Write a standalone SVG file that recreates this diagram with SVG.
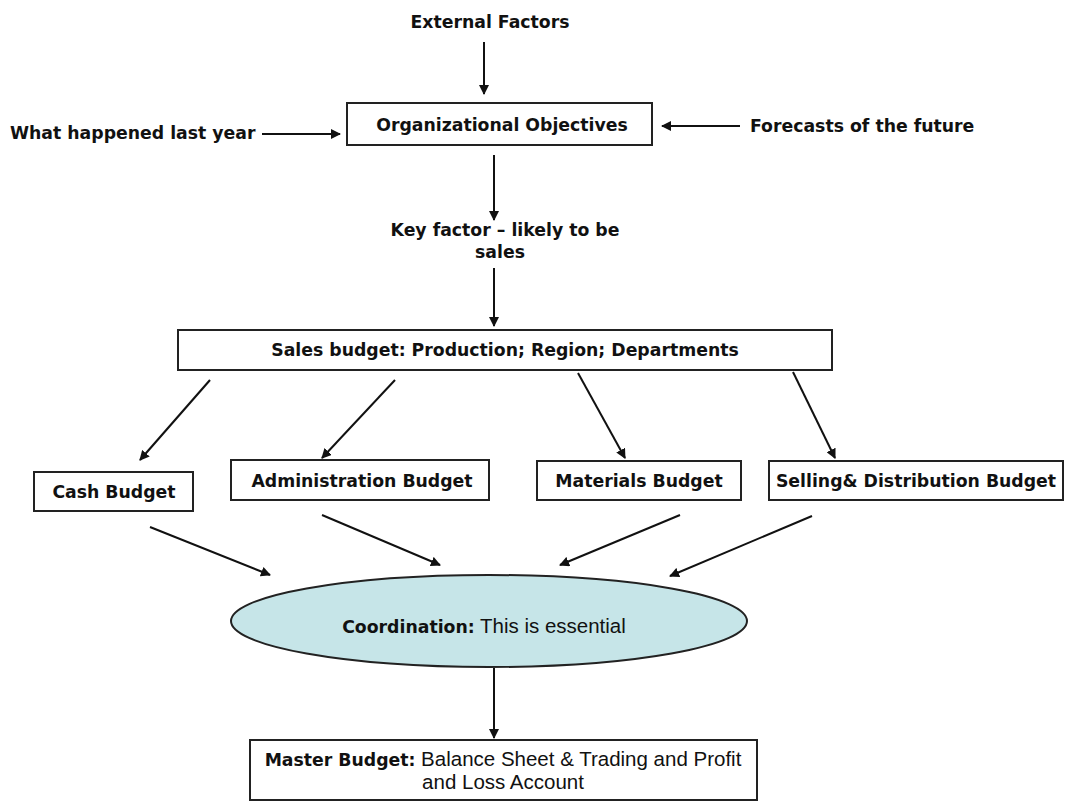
<svg xmlns="http://www.w3.org/2000/svg" width="1068" height="803" viewBox="0 0 1068 803">
<style>
text{font-family:"DejaVu Sans",Verdana,sans-serif;font-size:17.3px;fill:#111;}
.b{font-weight:bold;}
.r{font-family:"Liberation Sans",Arial,sans-serif;font-size:20.5px;font-weight:normal;}
.box{fill:#fff;stroke:#222;stroke-width:2;}
.c line{stroke:#111;stroke-width:2;}
</style>
<defs>
<marker id="ah" viewBox="0 0 10 10" refX="9" refY="5" markerWidth="5" markerHeight="5" orient="auto" markerUnits="strokeWidth">
<path d="M0,0 L10,5 L0,10 z" fill="#111"/>
</marker>
</defs>
<rect width="1068" height="803" fill="#fff"/>
<g id="external"><text class="b" x="490" y="28" text-anchor="middle">External Factors</text></g>
<g id="lastyear"><text class="b" x="10" y="139">What happened last year</text></g>
<g id="forecasts"><text class="b" x="750" y="132">Forecasts of the future</text></g>
<g id="org"><rect class="box" x="347" y="103" width="305" height="42"/><text class="b" x="502" y="131" text-anchor="middle">Organizational Objectives</text></g>
<g id="keyfactor"><text class="b" x="505" y="236" text-anchor="middle">Key factor – likely to be</text><text class="b" x="500" y="258" text-anchor="middle">sales</text></g>
<g id="sales"><rect class="box" x="178" y="330" width="654" height="40"/><text class="b" x="505" y="356" text-anchor="middle">Sales budget: Production; Region; Departments</text></g>
<g id="cash"><rect class="box" x="34" y="472" width="159" height="39"/><text class="b" x="114" y="498" text-anchor="middle">Cash Budget</text></g>
<g id="admin"><rect class="box" x="231" y="460" width="258" height="40"/><text class="b" x="362" y="487" text-anchor="middle">Administration Budget</text></g>
<g id="materials"><rect class="box" x="537" y="461" width="204" height="39"/><text class="b" x="639" y="487" text-anchor="middle">Materials Budget</text></g>
<g id="selling"><rect class="box" x="769" y="461" width="294" height="39"/><text class="b" x="916" y="487" text-anchor="middle">Selling&amp; Distribution Budget</text></g>
<g id="coordination"><ellipse cx="489" cy="621" rx="258" ry="46" fill="#c6e5e8" stroke="#222" stroke-width="2"/><text x="484" y="633" text-anchor="middle"><tspan class="b">Coordination:</tspan><tspan class="r"> This is essential</tspan></text></g>
<g id="master"><rect class="box" x="250" y="740" width="507" height="60"/><text x="503" y="766" text-anchor="middle"><tspan class="b">Master Budget:</tspan><tspan class="r"> Balance Sheet &amp; Trading and Profit</tspan></text><text class="r" x="503" y="789" text-anchor="middle">and Loss Account</text></g>
<g class="c" id="connectors">
<line x1="484" y1="42" x2="484" y2="94" marker-end="url(#ah)"/>
<line x1="262" y1="134" x2="340" y2="134" marker-end="url(#ah)"/>
<line x1="740" y1="126" x2="662" y2="126" marker-end="url(#ah)"/>
<line x1="494" y1="155" x2="494" y2="220" marker-end="url(#ah)"/>
<line x1="494" y1="268" x2="494" y2="326" marker-end="url(#ah)"/>
<line x1="210" y1="380" x2="140" y2="460" marker-end="url(#ah)"/>
<line x1="395" y1="380" x2="322" y2="458" marker-end="url(#ah)"/>
<line x1="578" y1="373" x2="625" y2="458" marker-end="url(#ah)"/>
<line x1="793" y1="372" x2="835" y2="458" marker-end="url(#ah)"/>
<line x1="150" y1="527" x2="270" y2="575" marker-end="url(#ah)"/>
<line x1="322" y1="515" x2="440" y2="565" marker-end="url(#ah)"/>
<line x1="680" y1="515" x2="560" y2="565" marker-end="url(#ah)"/>
<line x1="812" y1="516" x2="670" y2="576" marker-end="url(#ah)"/>
<line x1="494" y1="668" x2="494" y2="738" marker-end="url(#ah)"/>
</g>
</svg>
